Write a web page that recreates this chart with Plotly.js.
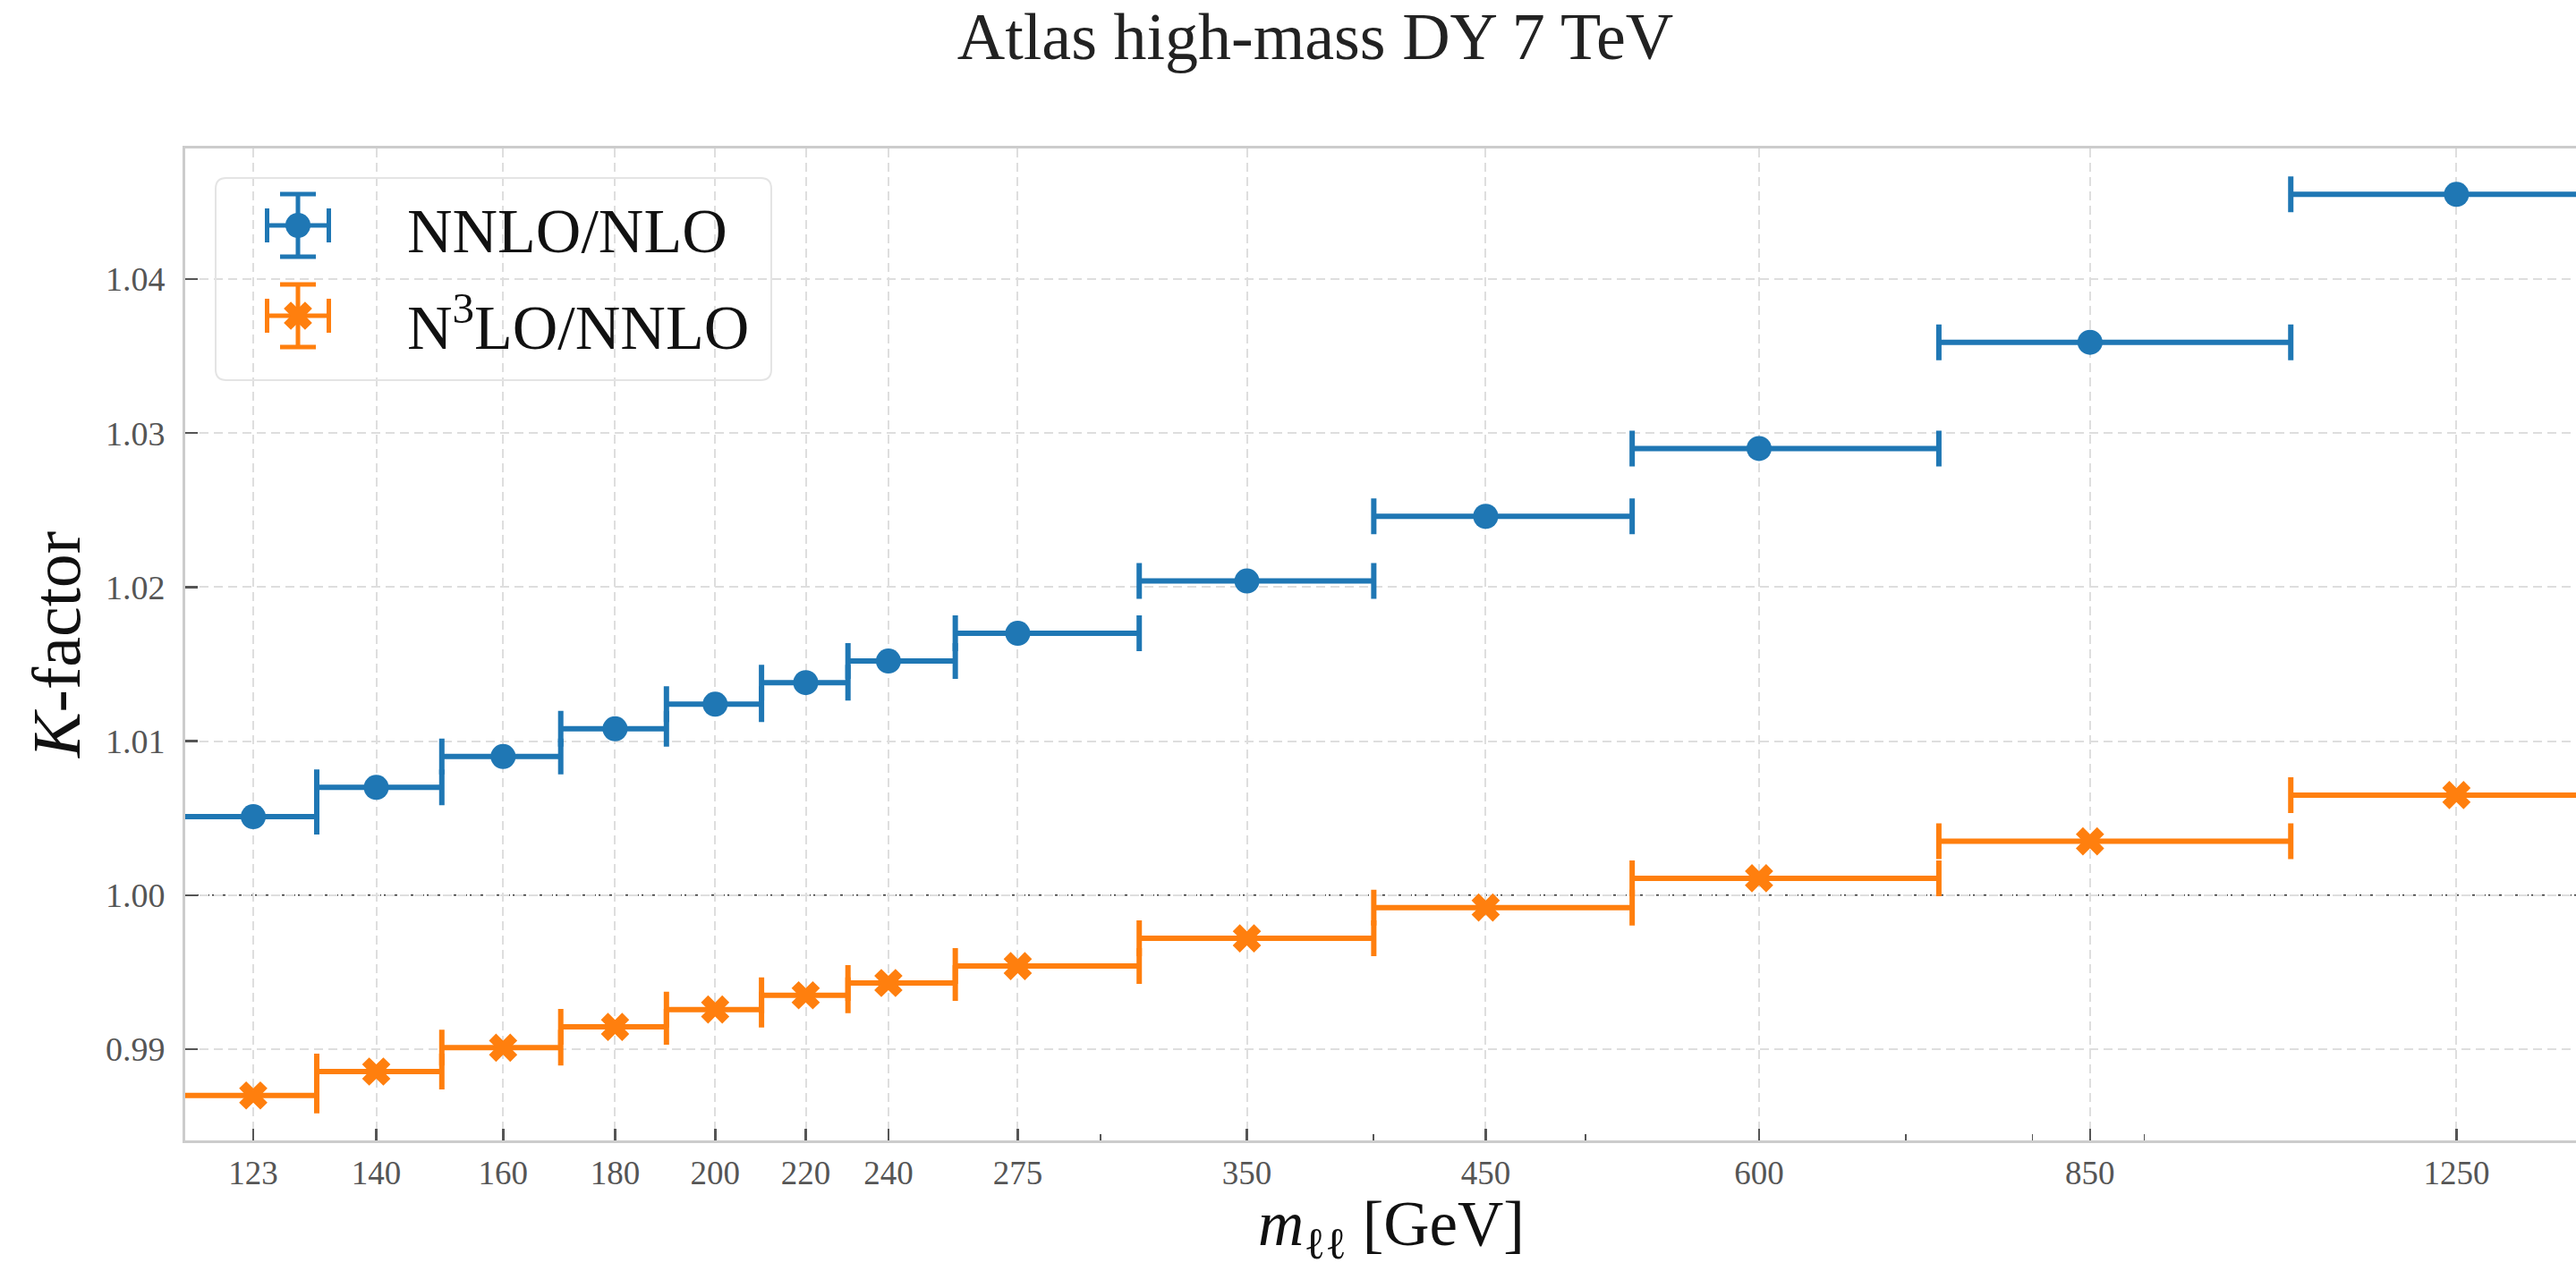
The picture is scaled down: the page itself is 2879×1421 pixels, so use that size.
<!DOCTYPE html>
<html><head><meta charset="utf-8">
<script src="https://cdn.plot.ly/plotly-3.0.1.min.js"></script>
<style>html,body{margin:0;padding:0;overflow:hidden;background:#fff}#chart{width:2940px;height:1421px}</style>
</head><body><div id="chart"></div>
<script>
// ---- data ----
const massCenters = [123, 140, 160, 180, 200, 220, 240, 275, 350, 450, 600, 850, 1250];
const binLow  = [114, 131.5, 150, 170, 190, 210, 230, 257.5, 312.5, 400, 525, 725, 1050];
const binHigh = [131.5, 150, 170, 190, 210, 230, 257.5, 312.5, 400, 525, 725, 1050, 1450];
const kNNLOoverNLO  = [1.0051, 1.0070, 1.0090, 1.0108, 1.0124, 1.0138, 1.0152, 1.0170, 1.0204, 1.0246, 1.0290, 1.0359, 1.0455];
const kN3LOoverNNLO = [0.9870, 0.98855, 0.9901, 0.99145, 0.99258, 0.9935, 0.9943, 0.9954, 0.9972, 0.9992, 1.0011, 1.0035, 1.0065];
const xTickVals = [123, 140, 160, 180, 200, 220, 240, 275, 350, 450, 600, 850, 1250];
const xTickText = ['123', '140', '160', '180', '200', '220', '240', '275', '350', '450', '600', '850', '1250'];
const xMinorVals = [300, 400, 500, 700, 800, 900];
const yTickVals = [0.99, 1.00, 1.01, 1.02, 1.03, 1.04];
const yTickText = ['0.99', '1.00', '1.01', '1.02', '1.03', '1.04'];
const seriesNames = ['NNLO/NLO', 'N<sup>3</sup>LO/NNLO'];
const seriesColors = ['#1f77b4', '#ff7f0e'];
const xTitle = '<i>m</i><sub>ℓℓ</sub> [GeV]';
const yTitle = '<i>K</i>-factor';
const chartTitle = 'Atlas high-mass DY 7 TeV';
const xRange = [114.5, 1450];
const yRange = [0.98408, 1.04848];
const referenceK = 1.0;

// ---- layout geometry (pixels) ----
const W = 2940, H = 1421;
const M = {l: 207, r: 37, t: 166, b: 146};
const PW = W - M.l - M.r, PH = H - M.t - M.b;
const px2x = p => (p - M.l) / PW;
const px2y = p => (H - M.b - p) / PH;
const FONT = 'Liberation Serif, Times New Roman, serif';

const errPlus  = massCenters.map((c, i) => binHigh[i] - c);
const errMinus = massCenters.map((c, i) => c - binLow[i]);

function series(y, i, symbol, size) {
  return {
    type: 'scatter', mode: 'markers', name: seriesNames[i], showlegend: false,
    x: massCenters, y: y,
    marker: {color: seriesColors[i], size: size, symbol: symbol, line: {width: 0}},
    error_x: {type: 'data', symmetric: false, array: errPlus, arrayminus: errMinus,
              color: seriesColors[i], thickness: 6, width: 20},
    hoverinfo: 'x+y'
  };
}

// legend glyphs (overlay axes in 0..1 units)
const legendRowsPx = [252, 353];
function glyph(i, symbol, size) {
  return {
    type: 'scatter', mode: 'markers', xaxis: 'x2', yaxis: 'y2', showlegend: false, hoverinfo: 'skip',
    x: [px2x(333)], y: [px2y(legendRowsPx[i])],
    marker: {color: seriesColors[i], size: size, symbol: symbol, line: {width: 0}},
    error_x: {type: 'constant', value: 34.5 / PW, color: seriesColors[i], thickness: 5, width: 19},
    error_y: {type: 'constant', value: 35 / PH, color: seriesColors[i], thickness: 5, width: 20}
  };
}

const traces = [
  series(kNNLOoverNLO, 0, 'circle', 28),
  series(kN3LOoverNNLO, 1, 'x', 28),
  glyph(0, 'circle', 28),
  glyph(1, 'x', 28)
];

// rounded legend box path in paper units
function roundedBox(x0p, y0p, x1p, y1p, r) {
  const x0 = px2x(x0p), x1 = px2x(x1p), yT = px2y(y0p), yB = px2y(y1p);
  const rx = r / PW, ry = r / PH;
  return `M${x0+rx},${yT} L${x1-rx},${yT} Q${x1},${yT} ${x1},${yT-ry} L${x1},${yB+ry} Q${x1},${yB} ${x1-rx},${yB} ` +
         `L${x0+rx},${yB} Q${x0},${yB} ${x0},${yB+ry} L${x0},${yT-ry} Q${x0},${yT} ${x0+rx},${yT} Z`;
}

const gridStyle = {showgrid: true, gridcolor: '#dedede', gridwidth: 2, griddash: '10px,6px'};

const legendAnnotations = seriesNames.map((name, i) => ({
  text: name, xref: 'paper', yref: 'paper', x: px2x(453), y: px2y([258, 361][i]),
  xanchor: 'left', yanchor: 'middle', showarrow: false,
  font: {family: FONT, size: 70, color: '#111'}
}));

const layout = {
  width: W, height: H, margin: M,
  paper_bgcolor: '#fff', plot_bgcolor: '#fff',
  font: {family: FONT, color: '#222'},
  title: {text: chartTitle, font: {family: FONT, size: 74, color: '#222'},
          xref: 'container', x: 0.5, xanchor: 'center', yref: 'container', y: 1 - 40 / H, yanchor: 'middle'},
  showlegend: false,
  xaxis: Object.assign({
    type: 'log', range: xRange.map(Math.log10), tickmode: 'array', tickvals: xTickVals, ticktext: xTickText,
    ticks: 'inside', ticklen: 13, tickwidth: 2.5, tickcolor: '#555',
    tickfont: {family: FONT, size: 37, color: '#555'}, ticklabelstandoff: 2,
    showline: true, linecolor: '#cccccc', linewidth: 3, mirror: true, zeroline: false,
    minor: {tickmode: 'array', tickvals: xMinorVals, ticks: 'inside', ticklen: 7, tickwidth: 1.8, tickcolor: '#555', showgrid: false},
    automargin: false
  }, gridStyle),
  yaxis: Object.assign({
    range: yRange, tickmode: 'array', tickvals: yTickVals, ticktext: yTickText,
    ticks: 'inside', ticklen: 14, tickwidth: 2.5, tickcolor: '#555',
    tickfont: {family: FONT, size: 38, color: '#555'}, ticklabelstandoff: 12,
    showline: true, linecolor: '#cccccc', linewidth: 3, mirror: true, zeroline: false,
    title: {text: yTitle, font: {family: FONT, size: 76, color: '#111'}, standoff: 4},
    automargin: false
  }, gridStyle),
  xaxis2: {overlaying: 'x', anchor: 'y2', range: [0, 1], visible: false, showticklabels: false, fixedrange: true},
  yaxis2: {overlaying: 'y', anchor: 'x2', range: [0, 1], visible: false, showticklabels: false, fixedrange: true},
  shapes: [
    {type: 'line', xref: 'paper', x0: 0, x1: 1, yref: 'y', y0: referenceK, y1: referenceK,
     line: {color: '#333', width: 1.5, dash: 'dot'}, layer: 'between'},
    {type: 'path', xref: 'paper', yref: 'paper', path: roundedBox(241, 199, 862, 425, 12),
     line: {color: '#e4e4e4', width: 2}, fillcolor: 'rgba(0,0,0,0)', layer: 'above'}
  ],
  annotations: legendAnnotations.concat([{
    text: xTitle, xref: 'paper', yref: 'paper', x: 0.5, y: px2y(1420),
    xanchor: 'center', yanchor: 'bottom', showarrow: false,
    font: {family: FONT, size: 71, color: '#111'}
  }])
};

Plotly.newPlot('chart', traces, layout, {displayModeBar: false, staticPlot: true});
</script>
</body></html>
